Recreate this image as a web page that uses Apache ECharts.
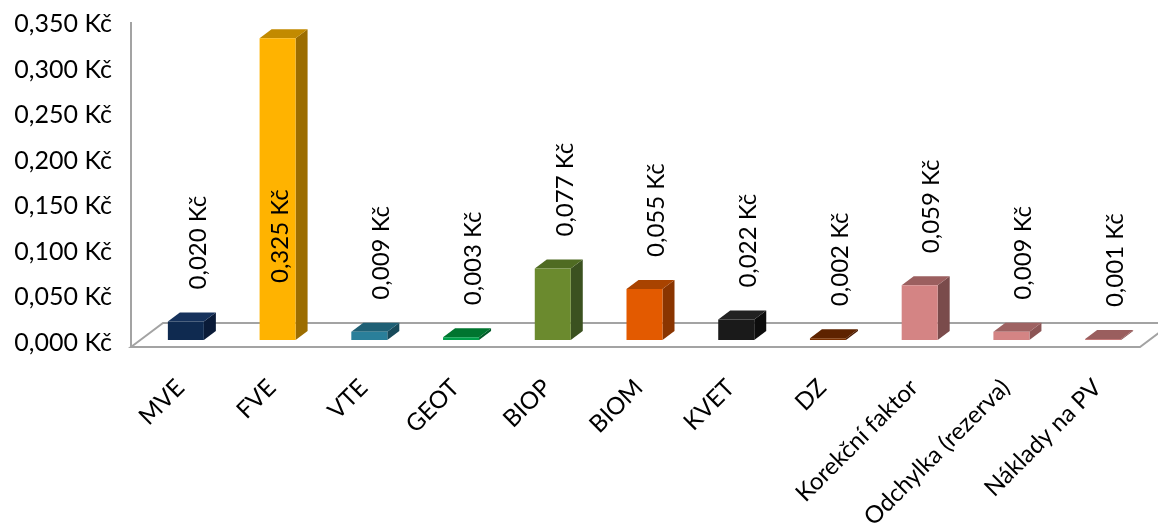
<!DOCTYPE html>
<html>
<head>
<meta charset="utf-8">
<script src="https://cdn.jsdelivr.net/npm/echarts@6/dist/echarts.min.js"></script>
<style>
  html, body { margin: 0; padding: 0; background: #ffffff; }
  #chart { width: 1158px; height: 526px; }
</style>
</head>
<body>
<div id="chart"></div>
<script>
// Categories and values (Kč)
const categories = ['MVE', 'FVE', 'VTE', 'GEOT', 'BIOP', 'BIOM', 'KVET', 'DZ',
  'Korekční faktor', 'Odchylka (rezerva)', 'Náklady na PV'];
const values = [0.020, 0.325, 0.009, 0.003, 0.077, 0.055, 0.022, 0.002, 0.059, 0.009, 0.001];

// Value axis range
const axisMin = 0;
const axisMax = 0.35;
const axisStep = 0.05;

// Face colours of each 3D column: front, side, top
const frontColors = ['#0f2a50', '#ffb300', '#2a7f9a', '#00a04a', '#6b8a2e', '#e35a00',
  '#1a1a1a', '#7a3000', '#d48484', '#d48484', '#c47878'];
const sideColors = ['#0a1b38', '#9c6d00', '#184a5a', '#005a28', '#3b5120', '#8a3500',
  '#0d0d0d', '#4a1a00', '#7a4b4b', '#8c5555', '#8a5050'];
const topColors = ['#16325c', '#c28a00', '#1f6075', '#00752f', '#4f6b22', '#a94300',
  '#222222', '#5e2300', '#9b5f5f', '#9e6262', '#9a5e5e'];

const FONT = 'Lato, "Open Sans", sans-serif';
const LINE = '#a3a3a3';

function kc(v) {
  return v.toFixed(3).replace('.', ',') + ' Kč';
}

// 3D column: front face, side face, top face and a rotated value label
function renderColumn(params, api) {
  const i = api.value(0);
  const v = api.value(1);
  const base = api.coord([i, 0]);
  const top = api.coord([i, v]);
  const hw = 18, dx = 12, dy = 9;
  const x0 = base[0] - hw, x1 = base[0] + hw;
  const yb = base[1], yt = top[1];
  const labelLen = 92;
  let labelBottom = yt - 32;
  const inside = labelBottom - labelLen < params.coordSys.y;
  if (inside) labelBottom = yb - 57;
  return {
    type: 'group',
    children: [
      {
        type: 'polygon',
        shape: { points: [[x1, yb], [x1, yt], [x1 + dx, yt - dy], [x1 + dx, yb - dy]] },
        style: { fill: sideColors[i] }
      },
      {
        type: 'polygon',
        shape: { points: [[x0, yt], [x1, yt], [x1 + dx, yt - dy], [x0 + dx, yt - dy]] },
        style: { fill: topColors[i] }
      },
      {
        type: 'rect',
        shape: { x: x0, y: yt, width: hw * 2, height: Math.max(yb - yt, 1) },
        style: { fill: frontColors[i] }
      },
      {
        type: 'text',
        x: base[0] + (inside ? 3 : 12),
        y: labelBottom,
        rotation: Math.PI / 2,
        style: {
          text: kc(v),
          font: '24px ' + FONT,
          fill: '#000000',
          align: 'left',
          verticalAlign: 'middle'
        }
      }
    ]
  };
}

// Floor of the 3D plot area and the vertical wall edge
function renderFloor(params) {
  const cs = params.coordSys;
  const L = cs.x, R = cs.x + cs.width, B = cs.y + cs.height;
  const lf = [L - 9, B + 7], lb = [L + 23, B - 17];
  const rb = [R + 23, B - 17], rf = [R - 9, B + 7];
  return {
    type: 'group',
    children: [
      {
        type: 'polygon',
        shape: { points: [lf, lb, rb, rf] },
        style: { fill: 'none', stroke: LINE, lineWidth: 2 }
      },
      {
        type: 'line',
        shape: { x1: lf[0], y1: lf[1], x2: lf[0], y2: lf[1] - 325 },
        style: { stroke: LINE, lineWidth: 2 }
      }
    ]
  };
}

const chart = echarts.init(document.getElementById('chart'), null, { renderer: 'canvas' });

chart.setOption({
  backgroundColor: '#ffffff',
  animation: false,
  grid: [
    { left: 131, top: 24, width: 1000, height: 319, outerBoundsMode: 'none' },
    { left: 140, top: 15, width: 1009, height: 325, outerBoundsMode: 'none' }
  ],
  xAxis: [
    { gridIndex: 0, type: 'category', data: categories, show: false },
    {
      gridIndex: 1,
      type: 'category',
      data: categories,
      axisLine: { show: false },
      axisTick: { show: false },
      axisLabel: {
        interval: 0,
        rotate: 45,
        margin: 38,
        padding: [0, 8, 0, 0],
        color: '#000000',
        fontSize: 24,
        fontFamily: FONT
      }
    }
  ],
  yAxis: [
    {
      gridIndex: 0,
      type: 'value',
      min: axisMin,
      max: axisMax,
      interval: axisStep,
      axisLine: { show: false },
      axisTick: { show: false },
      splitLine: { show: false },
      axisLabel: {
        margin: 19,
        color: '#000000',
        fontSize: 25,
        fontFamily: FONT,
        formatter: kc
      }
    },
    { gridIndex: 1, type: 'value', min: axisMin, max: axisMax, show: false }
  ],
  series: [
    {
      type: 'custom',
      xAxisIndex: 1,
      yAxisIndex: 1,
      z: 1,
      silent: true,
      renderItem: renderFloor,
      data: [[0, 0]]
    },
    {
      type: 'custom',
      xAxisIndex: 1,
      yAxisIndex: 1,
      z: 2,
      renderItem: renderColumn,
      data: values.map((v, i) => [i, v])
    }
  ]
});
</script>
</body>
</html>
